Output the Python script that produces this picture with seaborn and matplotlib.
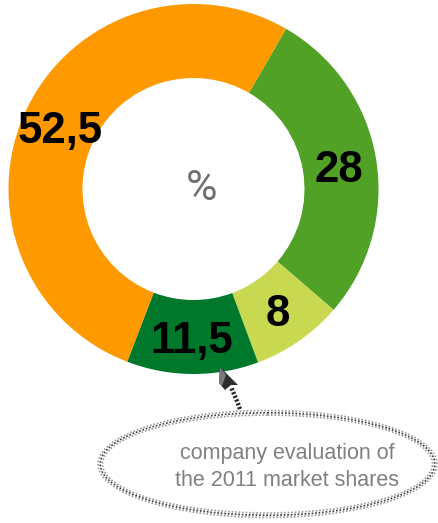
import numpy as np
import pandas as pd
import seaborn as sns
import matplotlib
matplotlib.use("Agg")
import matplotlib.pyplot as plt
from matplotlib.patches import Ellipse, Polygon

sns.set_theme(style="white")
plt.rcParams['font.family'] = ['Liberation Sans', 'DejaVu Sans']

segments = ["Green", "Light green", "Dark green", "Orange"]
shares = [28, 8, 11.5, 52.5]
share_labels = ["28", "8", "11,5", "52,5"]
colors = ["#51A127", "#C8D850", "#00782B", "#FF9900"]
center_label = "%"
note_lines = "company evaluation of\nthe 2011 market shares"

W, H = 438, 523
fig = plt.figure(figsize=(W / 100, H / 100), dpi=100)
ax = fig.add_axes([0, 0, 1, 1])

frame = pd.DataFrame({"segment": segments, "share": shares})
cx, cy, r_out, r_in = 193.5, 189, 185, 111

# The y axis runs downward, so a positive sweep reads clockwise on screen.
ax.pie(
    frame["share"], colors=sns.color_palette(colors), startangle=-60, counterclock=True,
    center=(cx, cy), radius=r_out, wedgeprops=dict(width=r_out - r_in, linewidth=0),
    frame=True,
)
ax.set_xlim(0, W)
ax.set_ylim(H, 0)
ax.set_aspect("equal")
ax.axis("off")

# Value labels on the ring
label_xy = [(339, 170), (278, 315), (192, 342), (60, 132)]
for text, (x, y) in zip(share_labels, label_xy):
    ax.text(x, y, text, ha="center", va="center", fontsize=31.5,
            fontweight="bold", color="black", zorder=5)

ax.text(201, 189, center_label, ha="center", va="center", fontsize=31,
        family=["Roboto", "Liberation Sans"], color="#6E6E6E", zorder=5)

# Dotted callout ellipse: nested rings of fine dots
ex, ey, ew, eh = 267.5, 464, 339, 107
for inset, col in [(0, "#9A9A9A"), (4.5, "#3A3A3A"), (9, "#9A9A9A")]:
    ax.add_patch(Ellipse((ex, ey), ew - inset, eh - inset, fill=False, edgecolor=col,
                         linewidth=1.2, linestyle=(0, (1, 1.1)), zorder=3))

ax.plot([240, 237, 234, 231], [409, 401, 394, 387], color="#2A2A2A", lw=3.2,
        linestyle=(0, (0.5, 0.4)), zorder=3)

# Arrow head pointing at the dark green segment
ax.add_patch(Polygon([(220, 367), (238, 385), (231, 385), (225, 390), (219, 383)],
                     closed=True, facecolor="#2E2E2E", edgecolor="none", zorder=4))
ax.add_patch(Polygon([(220, 367), (226, 375), (222, 386), (219, 383)],
                     closed=True, facecolor="#7A7A7A", edgecolor="none", zorder=4))

ax.text(287, 467, note_lines, ha="center", va="center", fontsize=15.5,
        color="#808080", linespacing=1.35, zorder=5)

fig.savefig("out.png", dpi=100)
